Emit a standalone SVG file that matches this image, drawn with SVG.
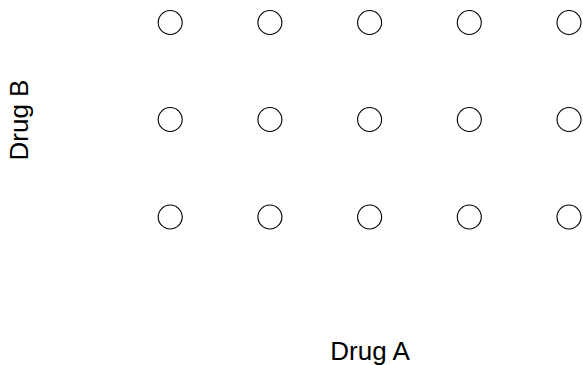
<svg xmlns="http://www.w3.org/2000/svg" width="583" height="365" viewBox="0 0 583 365">
<style>
.pt{fill:none;stroke:#000;stroke-width:1.1}
.lab{font-family:"Liberation Sans",Arial,sans-serif;font-size:26px;fill:#000}
</style>
<rect width="583" height="365" fill="#fff"/>
<g id="points">
<circle class="pt" cx="170.2" cy="22.5" r="12"/>
<circle class="pt" cx="269.9" cy="22.5" r="12"/>
<circle class="pt" cx="369.6" cy="22.5" r="12"/>
<circle class="pt" cx="469.3" cy="22.5" r="12"/>
<circle class="pt" cx="569" cy="22.5" r="12"/>
<circle class="pt" cx="170.2" cy="119.5" r="12"/>
<circle class="pt" cx="269.9" cy="119.5" r="12"/>
<circle class="pt" cx="369.6" cy="119.5" r="12"/>
<circle class="pt" cx="469.3" cy="119.5" r="12"/>
<circle class="pt" cx="569" cy="119.5" r="12"/>
<circle class="pt" cx="170.2" cy="217" r="12"/>
<circle class="pt" cx="269.9" cy="217" r="12"/>
<circle class="pt" cx="369.6" cy="217" r="12"/>
<circle class="pt" cx="469.3" cy="217" r="12"/>
<circle class="pt" cx="569" cy="217" r="12"/>
</g>
<g id="connectors"></g>
<text class="lab" x="370" y="360" text-anchor="middle">Drug A</text>
<text class="lab" transform="translate(28,120) rotate(-90)" text-anchor="middle">Drug B</text>
</svg>
